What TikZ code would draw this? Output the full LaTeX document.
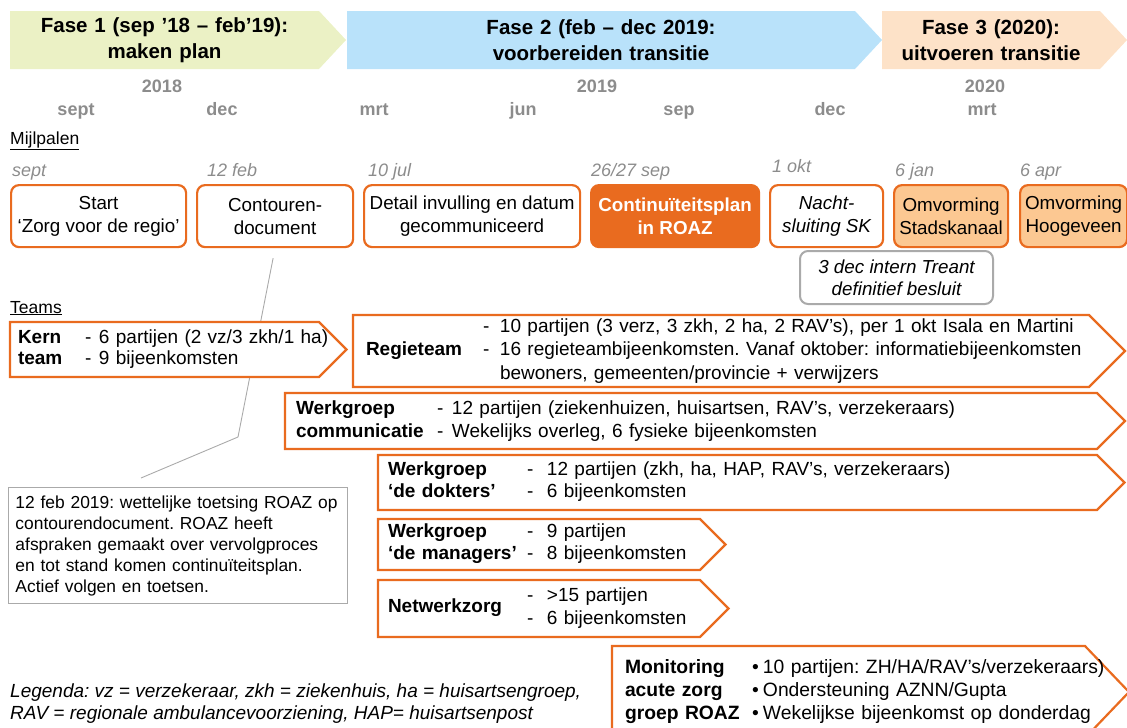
\documentclass[tikz,border=0pt]{standalone}
\usepackage{fontspec}
\setmainfont{Liberation Sans}
\usetikzlibrary{positioning,calc,backgrounds}
\frenchspacing
\definecolor{roazoranje}{RGB}{233,107,31}
\definecolor{perzik}{RGB}{252,200,146}
\definecolor{fasegroen}{RGB}{235,241,197}
\definecolor{faseblauw}{RGB}{185,226,250}
\definecolor{faseoranje}{RGB}{253,226,200}
\definecolor{tijdgrijs}{RGB}{140,140,140}
\definecolor{kadergrijs}{RGB}{170,170,170}
\tikzset{
	fase/.style={
		rectangle,
		anchor=north west,
		inner sep=0pt,
		outer sep=0pt,
		minimum height=58pt,
		align=center,
		font=\bfseries\fontsize{20.5}{26}\selectfont
	},
	tijd/.style={
		anchor=base,
		text=tijdgrijs,
		font=\bfseries\fontsize{18}{20}\selectfont
	},
	kopje/.style={
		anchor=base west,
		inner sep=0pt,
		font=\fontsize{17.5}{20}\selectfont
	},
	datum/.style={
		anchor=base west,
		inner sep=0pt,
		text=tijdgrijs,
		font=\itshape\fontsize{18}{20}\selectfont
	},
	mijlpaal/.style={
		rectangle,
		rounded corners=8pt,
		draw=roazoranje,
		line width=2.2pt,
		fill=white,
		anchor=north west,
		minimum height=62pt,
		inner sep=0pt,
		align=center,
		font=\fontsize{18.8}{23}\selectfont
	},
	besluit/.style={
		rectangle,
		rounded corners=8pt,
		draw=kadergrijs,
		line width=2pt,
		anchor=north west,
		minimum width=193pt,
		minimum height=53pt,
		align=center,
		font=\itshape\fontsize{18.8}{22}\selectfont
	},
	team/.style={
		rectangle,
		anchor=north west,
		inner sep=0pt,
		outer sep=0pt,
		align=left,
		font=\fontsize{19}{22}\selectfont
	},
	pijlrand/.style={
		draw=roazoranje,
		line width=2.2pt,
		line join=miter,
		fill=white
	},
	notitie/.style={
		rectangle,
		draw=kadergrijs,
		line width=1pt,
		anchor=north west,
		text width=325pt,
		inner xsep=7pt,
		minimum height=116pt,
		align=left,
		font=\fontsize{17.4}{21}\selectfont
	},
	legenda/.style={
		anchor=west,
		inner sep=0pt,
		align=left,
		font=\itshape\fontsize{19}{22}\selectfont
	},
	verbinding/.style={
		draw=kadergrijs,
		line width=0.9pt
	},
}
\newcommand{\pijlvorm}[3][pijlrand]{%
	\path[#1] (#2.north west) -- (#2.north east) -- ($(#2.east)+(#3pt,0pt)$)
		-- (#2.south east) -- (#2.south west) -- cycle;}

\begin{document}
\begin{tikzpicture}[x=1pt,y=-1pt]
\useasboundingbox (0,0) rectangle (1127,728);

% fasen
\node[fase, text width=309pt] (fase1) at (10,11) {Fase 1 (sep ’18 – feb’19):\\maken plan};
\node[fase, text width=508pt] (fase2) at (347,11) {Fase 2 (feb – dec 2019:\\voorbereiden transitie};
\node[fase, text width=218pt] (fase3) at (882,11) {Fase 3 (2020):\\uitvoeren transitie};
\begin{pgfonlayer}{background}
\pijlvorm[fill=fasegroen]{fase1}{27}
\pijlvorm[fill=faseblauw]{fase2}{27}
\pijlvorm[fill=faseoranje]{fase3}{27}
\end{pgfonlayer}

% tijdlijn
\foreach \x/\jaar in {162/2018, 597/2019, 985/2020}
	\node[tijd] (j\jaar) at (\x,92) {\jaar};
\foreach \x/\maand [count=\i] in {76/sept, 222/dec, 374/mrt, 523/jun, 679/sep, 830/dec, 982/mrt}
	\node[tijd] (maand\i) at (\x,115) {\maand};

% mijlpalen
\node[kopje] (mijlpalen) at (10,144) {\underline{Mijlpalen}};
\node[mijlpaal, minimum width=175pt] (start) at (10,184) {Start\\‘Zorg voor de regio’};
\node[mijlpaal, minimum width=156pt] (contouren) at (196,184) {Contouren-\\document};
\node[mijlpaal, minimum width=216pt] (detail) at (363,184) {Detail invulling en datum\\gecommuniceerd};
\node[mijlpaal, minimum width=168pt, fill=roazoranje, text=white, font=\bfseries\fontsize{18.8}{23}\selectfont] (plan) at (590,184) {Continuïteitsplan\\in ROAZ};
\node[mijlpaal, minimum width=113pt, font=\itshape\fontsize{18.8}{23}\selectfont] (nacht) at (769,184) {Nacht-\\sluiting SK};
\node[mijlpaal, minimum width=114pt, fill=perzik] (stadskanaal) at (893,184) {Omvorming\\Stadskanaal};
\node[mijlpaal, minimum width=107pt, fill=perzik] (hoogeveen) at (1019,184) {Omvorming\\Hoogeveen};
\node[besluit] (treant) at (799,250) {3 dec intern Treant\\definitief besluit};

\node[datum] (dstart) at ($(start.north west)+(2pt,8pt)$) {sept};
\node[datum] (dcontouren) at ($(contouren.north west)+(11pt,8pt)$) {12 feb};
\node[datum] (ddetail) at ($(detail.north west)+(5pt,8pt)$) {10 jul};
\node[datum] (dplan) at ($(plan.north west)+(1pt,8pt)$) {26/27 sep};
\node[datum] (dnacht) at ($(nacht.north west)+(3pt,12pt)$) {1 okt};
\node[datum] (dstadskanaal) at ($(stadskanaal.north west)+(2pt,8pt)$) {6 jan};
\node[datum] (dhoogeveen) at ($(hoogeveen.north west)+(1pt,8pt)$) {6 apr};

% teams
\node[kopje] (teams) at (10,313) {\underline{Teams}};
\node[team, text width=309pt, minimum height=55pt, font=\fontsize{19}{21}\selectfont] (kern) at (10,322) {%
\begin{tabular}{@{\hspace{8pt}}p{67pt}@{}p{14pt}@{}l@{}}
\textbf{Kern} & - & 6 partijen (2 vz/3 zkh/1 ha)\\
\textbf{team} & - & 9 bijeenkomsten
\end{tabular}};
\node[team, text width=736pt, minimum height=72pt, font=\fontsize{19}{23.5}\selectfont] (regie) at (353,315) {%
\hspace*{13pt}\makebox[117pt][l]{\textbf{Regieteam}}%
\begin{tabular}[c]{@{}p{17pt}@{}l@{}}
- & 10 partijen (3 verz, 3 zkh, 2 ha, 2 RAV’s), per 1 okt Isala en Martini\\
- & 16 regieteambijeenkomsten. Vanaf oktober: informatiebijeenkomsten\\
  & bewoners, gemeenten/provincie + verwijzers
\end{tabular}};
\node[team, text width=812pt, minimum height=56pt, font=\fontsize{19}{23}\selectfont] (communicatie) at (285,393) {%
\begin{tabular}{@{\hspace{11pt}}p{141pt}@{}p{15pt}@{}l@{}}
\textbf{Werkgroep} & - & 12 partijen (ziekenhuizen, huisartsen, RAV’s, verzekeraars)\\
\textbf{communicatie} & - & Wekelijks overleg, 6 fysieke bijeenkomsten
\end{tabular}};
\node[team, text width=719pt, minimum height=55pt] (dokters) at (378,455) {%
\begin{tabular}{@{\hspace{10pt}}p{139pt}@{}p{20pt}@{}l@{}}
\textbf{Werkgroep} & - & 12 partijen (zkh, ha, HAP, RAV’s, verzekeraars)\\
\textbf{‘de dokters’} & - & 6 bijeenkomsten
\end{tabular}};
\node[team, text width=322pt, minimum height=51pt] (managers) at (378,519) {%
\begin{tabular}{@{\hspace{10pt}}p{139pt}@{}p{20pt}@{}l@{}}
\textbf{Werkgroep} & - & 9 partijen\\
\textbf{‘de managers’} & - & 8 bijeenkomsten
\end{tabular}};
\node[team, text width=322pt, minimum height=57pt, font=\fontsize{19}{23}\selectfont] (netwerkzorg) at (378,580) {%
\hspace*{10pt}\makebox[139pt][l]{\textbf{Netwerkzorg}}%
\begin{tabular}[c]{@{}p{20pt}@{}l@{}}
- & >15 partijen\\
- & 6 bijeenkomsten
\end{tabular}};
\node[team, text width=473pt, minimum height=92pt, font=\fontsize{19.3}{23}\selectfont] (monitoring) at (612,646) {%
\begin{tabular}{@{\hspace{13pt}}p{127pt}@{}p{11pt}@{}l@{}}
\textbf{Monitoring} & • & 10 partijen: ZH/HA/RAV’s/verzekeraars)\\
\textbf{acute zorg} & • & Ondersteuning AZNN/Gupta\\
\textbf{groep ROAZ} & • & Wekelijkse bijeenkomst op donderdag
\end{tabular}};

% toelichting
\node[notitie] (notitie) at (8,487) {12 feb 2019: wettelijke toetsing ROAZ op\\
contourendocument. ROAZ heeft\\
afspraken gemaakt over vervolgproces\\
en tot stand komen continuïteitsplan.\\
Actief volgen en toetsen.};
\coordinate (knik) at (238,437);
\coordinate (eind) at ($(notitie.north)+(-37pt,9pt)$);

\begin{pgfonlayer}{background}
\draw[verbinding] ($(contouren.south)+(-2pt,-10pt)$) -- (knik) -- (eind);
\pijlvorm{kern}{27.5}
\pijlvorm{regie}{36}
\pijlvorm{communicatie}{28}
\pijlvorm{dokters}{27.5}
\pijlvorm{managers}{25.5}
\pijlvorm{netwerkzorg}{28.5}
\pijlvorm{monitoring}{44}
\end{pgfonlayer}

\node[legenda] (legenda) at (10,704) {Legenda: vz = verzekeraar, zkh = ziekenhuis, ha = huisartsengroep,\\
RAV = regionale ambulancevoorziening, HAP= huisartsenpost};
\end{tikzpicture}
\end{document}
